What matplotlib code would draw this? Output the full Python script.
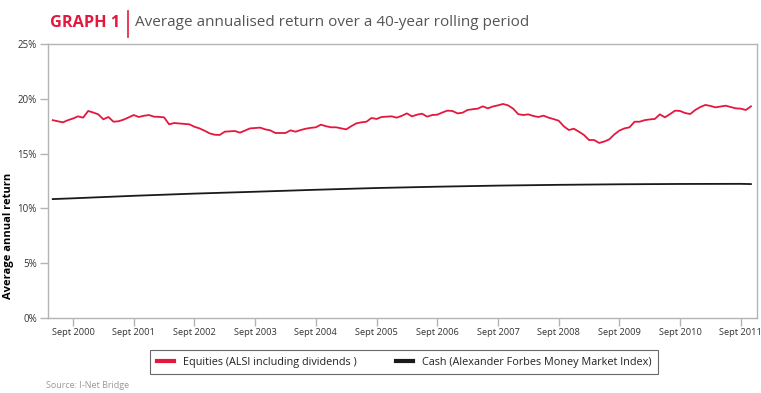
import numpy as np
import pandas as pd
import matplotlib
matplotlib.use('Agg')
import matplotlib.pyplot as plt
from matplotlib.lines import Line2D

plt.rcParams['font.family'] = ['Open Sans', 'DejaVu Sans']

# monthly, May 2000 .. Nov 2011
months = pd.period_range('2000-05', '2011-11', freq='M')
equities = [18.05, 17.95, 17.85, 18.05, 18.2, 18.4, 18.28, 18.89, 18.75, 18.58,
            18.13, 18.34, 17.91, 17.95, 18.1, 18.3, 18.52, 18.34, 18.45, 18.52,
            18.37, 18.35, 18.31, 17.67, 17.79, 17.75, 17.72, 17.67, 17.45, 17.3,
            17.09, 16.85, 16.72, 16.70, 17.0, 17.03, 17.06, 16.91, 17.1, 17.3,
            17.34, 17.37, 17.21, 17.12, 16.88, 16.88, 16.88, 17.12, 17.0, 17.15,
            17.27, 17.35, 17.40, 17.64, 17.5, 17.40, 17.40, 17.3, 17.21, 17.5,
            17.76, 17.85, 17.91, 18.25, 18.16, 18.34, 18.37, 18.40, 18.28, 18.45,
            18.67, 18.4, 18.55, 18.64, 18.37, 18.52, 18.55, 18.75, 18.92, 18.89,
            18.67, 18.73, 18.98, 19.05, 19.10, 19.31, 19.13, 19.3, 19.4, 19.53,
            19.4, 19.1, 18.6, 18.52, 18.58, 18.43, 18.34, 18.46, 18.28, 18.15,
            18.0, 17.5, 17.15, 17.27, 17.0, 16.7, 16.24, 16.24, 15.97, 16.1,
            16.3, 16.75, 17.1, 17.3, 17.40, 17.91, 17.91, 18.05, 18.12, 18.16,
            18.58, 18.31, 18.6, 18.92, 18.89, 18.7, 18.61, 18.98, 19.25, 19.44,
            19.35, 19.22, 19.3, 19.37, 19.25, 19.13, 19.10, 18.98, 19.31]

# cash read at a few dates only
cash_months = ['2000-05', '2000-09', '2001-09', '2002-09', '2003-09', '2004-09', '2005-09',
               '2006-09', '2007-09', '2008-09', '2009-09', '2010-09', '2011-09', '2011-11']
cash = [10.85, 10.92, 11.15, 11.35, 11.52, 11.70, 11.86,
        11.98, 12.08, 12.15, 12.20, 12.23, 12.24, 12.22]

years = list(range(2000, 2012))
tick_labels = ['Sept %d' % y for y in years]

red = '#e4173e'
grey = '#b4b4b4'

x = np.arange(len(months))
start = months[0]
cash_x = [(pd.Period(m, freq='M') - start).n for m in cash_months]
tick_x = [(pd.Period('%d-09' % y, freq='M') - start).n for y in years]

fig = plt.figure(figsize=(7.61, 3.93), dpi=100)
ax = fig.add_axes([48/761, 75/393, 709/761, 274/393])

ax.plot(x, equities, color=red, lw=1.3)
ax.plot(cash_x, cash, color='#1a1a1a', lw=1.3)

ax.set_xlim(-0.94, 139.2)
ax.set_ylim(0, 25)
ax.set_yticks(range(0, 26, 5))
ax.set_yticklabels(['%d%%' % v for v in range(0, 26, 5)])
ax.set_xticks(tick_x)
ax.set_xticklabels(tick_labels)
ax.tick_params(axis='both', colors=grey, length=6, width=1, labelcolor='#333333')
ax.tick_params(axis='x', pad=1.5, labelsize=6.7)
ax.tick_params(axis='y', pad=2, labelsize=7)
for s in ax.spines.values():
    s.set_color(grey)
    s.set_linewidth(1)

ax.set_ylabel('Average annual return', fontsize=8, fontweight='bold', color='black')
ax.yaxis.set_label_coords(-0.048, 0.30)

fig.text(50/761, 1 - 23/393, 'GRAPH 1', color=red, fontsize=11.7, fontweight='bold', va='center')
fig.add_artist(Line2D([128/761, 128/761], [1 - 11/393, 1 - 37/393], color=red, lw=1.2))
fig.text(135/761, 1 - 23/393, 'Average annualised return over a 40-year rolling period',
         color='#555555', fontsize=11, va='center')

handles = [Line2D([], [], color=red, lw=3), Line2D([], [], color='#1a1a1a', lw=3)]
leg = fig.legend(handles, ['Equities (ALSI including dividends )', 'Cash (Alexander Forbes Money Market Index)'],
                 loc='center', bbox_to_anchor=(404/761, 1 - 362/393), ncol=2, fontsize=7.8,
                 frameon=True, fancybox=False, handlelength=1.6, columnspacing=3.6, borderpad=0.6)
leg.get_frame().set_edgecolor('#444444')
leg.get_frame().set_linewidth(0.8)
for t in leg.get_texts():
    t.set_color('#222222')

fig.text(46/761, 1 - 385/393, 'Source: I-Net Bridge', color='#999999', fontsize=6.5, va='center')

fig.savefig('out.png', dpi=100)
